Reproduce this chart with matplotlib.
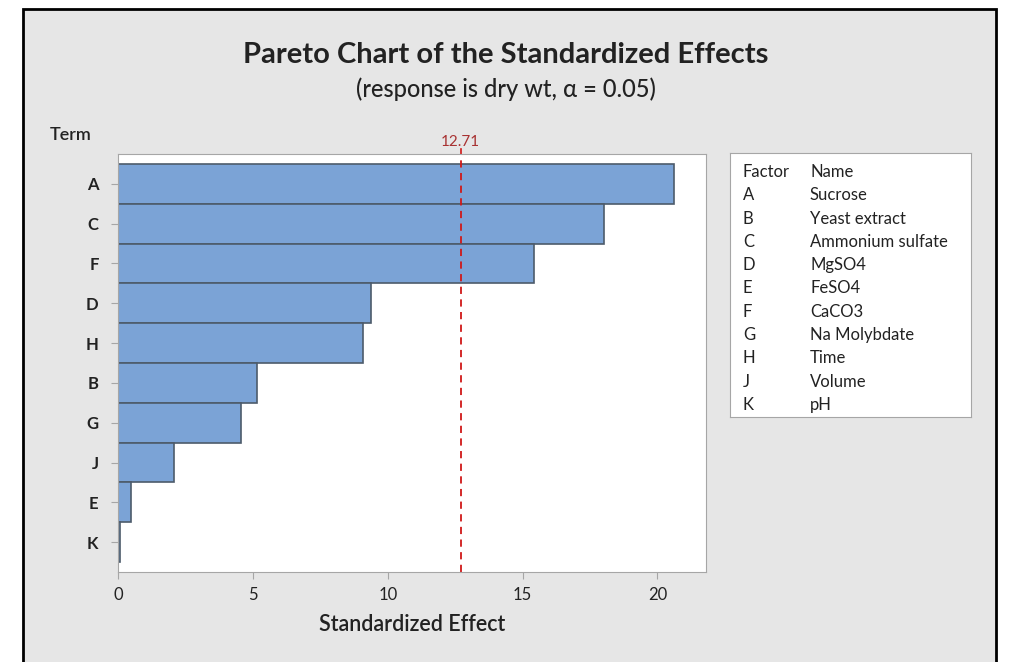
import numpy as np
import matplotlib
matplotlib.use("Agg")
import matplotlib.pyplot as plt
from matplotlib.patches import Rectangle
from matplotlib import transforms

plt.rcParams['font.family'] = ['Lato', 'DejaVu Sans']

# data, sorted as in the chart (largest effect on top)
terms = ['A', 'C', 'F', 'D', 'H', 'B', 'G', 'J', 'E', 'K']
effects = [20.6, 18.03, 15.41, 9.38, 9.08, 5.17, 4.57, 2.06, 0.48, 0.08]
crit = 12.71
xticks = [0, 5, 10, 15, 20]

factor_codes = ['A', 'B', 'C', 'D', 'E', 'F', 'G', 'H', 'J', 'K']
factor_names = ['Sucrose', 'Yeast extract', 'Ammonium sulfate', 'MgSO4', 'FeSO4',
                'CaCO3', 'Na Molybdate', 'Time', 'Volume', 'pH']

W, H = 1012, 662
fig = plt.figure(figsize=(W / 100, H / 100), dpi=100, facecolor='white')

def fx(px):
    return px / W

def fy(py):
    return 1 - py / H

# gray panel with black border (bottom runs off the image)
bg = Rectangle((fx(23), fy(680)), fx(996) - fx(23), fy(9) - fy(680),
               transform=fig.transFigure, facecolor='#e6e6e6',
               edgecolor='black', linewidth=2, zorder=-10)
fig.patches.append(bg)

spine_col = '#a6a6a6'
ax = fig.add_axes([fx(118), fy(572), fx(706) - fx(118), fy(154) - fy(572)])
ax.set_facecolor('white')
y = np.arange(len(terms))
ax.barh(y, effects, height=1.0, color='#7ba3d6', edgecolor='#4d5b6b', linewidth=1.2)
ax.axvline(crit, color='#d01818', linestyle=(0, (4, 3)), linewidth=1.3)
ax.set_xlim(0, 21.8)
ax.set_ylim(9.75, -0.75)
ax.set_yticks(y)
ax.set_yticklabels(terms)
ax.set_xticks(xticks)
for s in ax.spines.values():
    s.set_color(spine_col)
ax.tick_params(axis='both', colors=spine_col, labelcolor='#222222', labelsize=12, length=5)
ax.tick_params(axis='y', pad=9)
ax.tick_params(axis='x', pad=6)
for lab in ax.get_yticklabels():
    lab.set_fontweight('bold')
ax.set_xlabel('Standardized Effect', fontsize=15.5, fontweight='semibold', color='#222222', labelpad=8)

trans = transforms.blended_transform_factory(ax.transData, ax.transAxes)
ax.text(crit, 1.012, '12.71', transform=trans, ha='center', va='bottom',
        fontsize=11, color='#a83232')
ax.plot([crit, crit], [1.0, 1.012], transform=trans, color='#d01818', lw=1.2, clip_on=False)

fig.text(fx(50), fy(135), 'Term', ha='left', va='center', fontsize=13,
         fontweight='semibold', color='#222222')

fig.text(0.5, fy(55), 'Pareto Chart of the Standardized Effects', ha='center', va='center',
         fontsize=21, fontweight='bold', color='#222222')
fig.text(0.5, fy(89), '(response is dry wt, \u03b1 = 0.05)', ha='center', va='center',
         fontsize=17, fontweight='medium', color='#222222')

# factor key box
lg = fig.add_axes([fx(730), fy(417), fx(971) - fx(730), fy(153) - fy(417)])
lg.set_facecolor('white')
lg.set_xticks([])
lg.set_yticks([])
for s in lg.spines.values():
    s.set_color(spine_col)
top, bottom = 172, 405
rows = ['Factor'] + factor_codes
names = ['Name'] + factor_names
step = (bottom - top) / (len(rows) - 1)
for i, (c, n) in enumerate(zip(rows, names)):
    py = top + i * step
    fig.text(fx(743), fy(py), c, ha='left', va='center', fontsize=12, color='#222222')
    fig.text(fx(810), fy(py), n, ha='left', va='center', fontsize=12, color='#222222')

fig.savefig('out.png', dpi=100, facecolor='white')
